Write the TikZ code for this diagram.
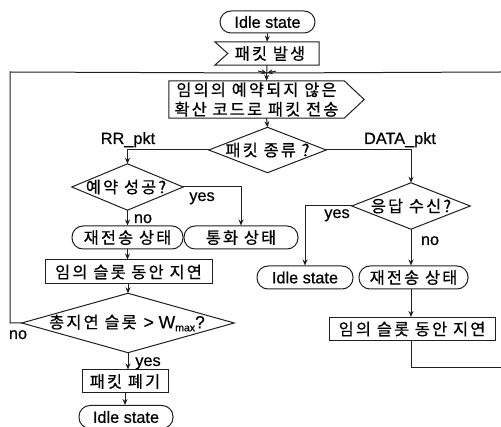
\documentclass[tikz,border=0pt]{standalone}
\usepackage{fontspec}
\setmainfont[FakeBold=0.6]{Liberation Sans}
\newfontfamily\lat[FakeBold=0.6]{Liberation Sans}
\newfontfamily\kr[LetterSpace=13,FakeBold=0.6]{Noto Sans CJK KR}
\usetikzlibrary{arrows.meta}
\tikzset{
  flow/.style={line width=1pt,draw=black!88},
  arr/.style={flow,-{Stealth[length=6pt,width=5pt]}},
  lbl/.style={font=\lat\fontsize{16.3}{17}\selectfont,inner sep=0pt,text=black},
  ktxt/.style={font=\kr\fontsize{16.4}{20.5}\selectfont,inner sep=0pt,align=center,text=black},
  box/.style={ktxt,flow,draw,minimum width=#1,minimum height=23pt},
  term/.style={box=#1,rounded corners=11pt},
}
\newcommand{\diam}[6]{%
  \node[ktxt,minimum width=#4,minimum height=#5] (#1) at (#2,#3) {#6};
  \draw[flow] (#1.west)--(#1.north)--(#1.east)--(#1.south)--cycle;}
\begin{document}
\begin{tikzpicture}[x=1pt,y=-1pt]
\useasboundingbox (0,0) rectangle (501,427);
% top
\node[term=95pt,lbl,minimum height=22pt] (idle1) at (267.5,22) {Idle state};
\node[ktxt,minimum width=104pt,minimum height=23pt] (gen) at (267,53.5) {\hspace{6pt}패킷 발생};
\draw[flow] (gen.north west)--(gen.north east)--(gen.south east)--(gen.south west)--([xshift=13pt]gen.west)--cycle;
\coordinate (merge) at (267,73);
\coordinate (rightend) at (501,72);
\coordinate (leftcorner) at (10,72);
\node[ktxt,minimum width=195pt,minimum height=37pt] (tx) at (266.5,99.5) {\hspace{-20pt}\shortstack{임의의 예약되지 않은\\[1.5pt]확산 코드로 패킷 전송}};
\draw[flow] (tx.north west)--([xshift=-20pt]tx.north east)--(tx.east)--([xshift=-20pt]tx.south east)--(tx.south west)--cycle;
\diam{kind}{267.5}{150}{117pt}{45pt}{패킷 종류 ?}
\diam{resv}{127.5}{187}{111pt}{46pt}{\hspace{-3pt}예약 성공?}
\diam{resp}{411}{206}{118pt}{46pt}{응답 수신?}
% left column
\node[term=111pt] (re1) at (127.5,237.5) {재전송 상태};
\node[term=114pt] (talk) at (241,237.5) {통화 상태};
\node[box=167pt,minimum height=24pt] (wait1) at (128.5,272) {임의 슬롯 동안 지연};
\diam{total}{128}{323}{212pt}{59pt}{\hspace{-2pt}총지연 슬롯 {\lat\fontsize{17.5}{18}\selectfont\hspace{1pt}> W\raisebox{-3pt}{\fontsize{10.5}{11}\selectfont max}?}}
\node[box=86pt] (drop) at (125,381.5) {패킷 폐기};
\node[term=94pt,lbl,minimum height=23pt] (idle2) at (126,417) {Idle state};
% right column
\node[term=96pt,lbl] (idle3) at (305,277.5) {Idle state};
\node[term=109pt] (re2) at (413.5,277.5) {재전송 상태};
\node[box=166pt] (wait2) at (412,329) {임의 슬롯 동안 지연};
\coordinate (back) at (501,368);
% connectors
\draw[arr] (idle1.south)--(gen.north);
\draw[arr] (gen.south)--(tx.north);
\draw[flow] (total.west)--(10,323)--(leftcorner)--(merge);
\draw[flow] (merge)--(rightend);
\draw[-{Stealth[length=6pt,width=5pt]},flow] (258,71)--(merge);
\draw[-{Stealth[length=6pt,width=5pt]},flow] (276,71)--(merge);
\draw[arr] (tx.south)--(kind.north);
\draw[arr] (kind.west)-|(resv.north);
\draw[arr] (kind.east)-|(resp.north);
\draw[arr] (resv.south)--(re1.north);
\draw[arr] (resv.east)-|(talk.north);
\draw[arr] (resp.west)-|(idle3.north);
\draw[arr] (resp.south)--(re2.north-|resp.south);
\draw[arr] (re2.south-|resp.south)--(wait2.north-|resp.south);
\draw[flow] (wait2.south-|resp.south)|-(back);
\draw[arr] (re1.south)--(wait1.north-|re1.south);
\draw[arr] (wait1.south-|total.north)--(total.north);
\draw[arr] (total.south)--(drop.north-|total.south);
\draw[arr] (drop.south)--(idle2.north-|drop.south);
% labels
\node[lbl,anchor=base] (rr) at (128,144) {RR\_pkt};
\node[lbl,anchor=base] (data) at (400,144) {DATA\_pkt};
\node[lbl,anchor=base] (y1) at (202,201) {yes};
\node[lbl,anchor=base] (n1) at (143,223) {no};
\node[lbl,anchor=base] (y2) at (337,218) {yes};
\node[lbl,anchor=base] (n2) at (430,245) {no};
\node[lbl,anchor=base] (n3) at (18,339) {no};
\node[lbl,anchor=base] (y3) at (148,366) {yes};
\end{tikzpicture}
\end{document}
